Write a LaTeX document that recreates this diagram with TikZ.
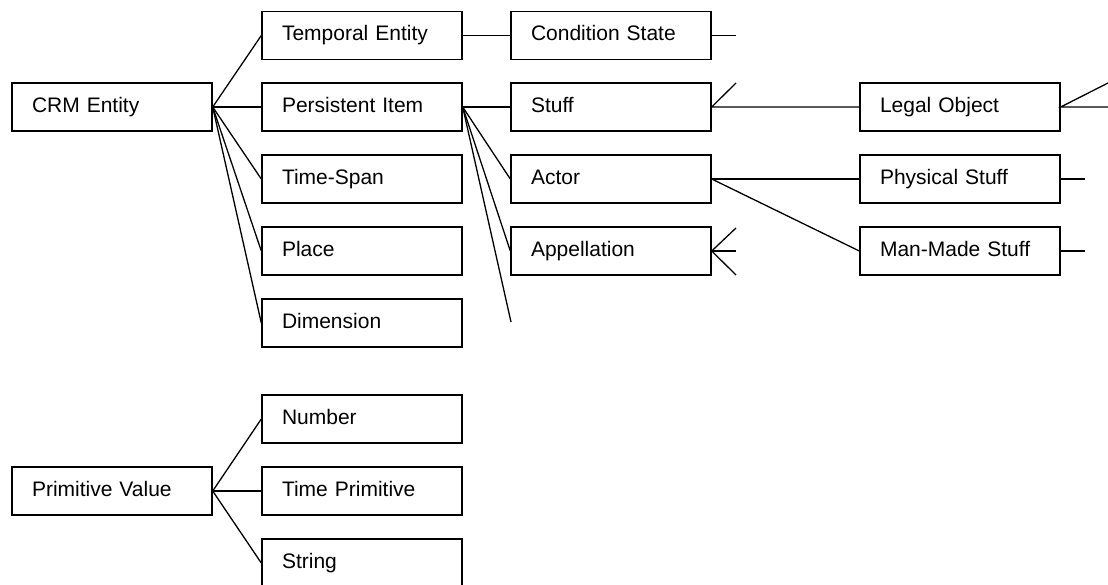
\documentclass[tikz,border=0pt]{standalone}
\usepackage{fontspec}
\setmainfont{Liberation Sans}
\usepackage{tikz}
\tikzset{
  classbox/.style={draw, rectangle, line width=1.4pt, minimum width=200pt,
    minimum height=48pt, text width=160pt, inner xsep=20pt, align=left,
    text height=15pt, text depth=4.5pt,
    font=\fontsize{21}{25}\selectfont},
  link/.style={line width=1.3pt}
}

\begin{document}
\begin{tikzpicture}[x=1pt, y=-1pt]
  \useasboundingbox (0,0) rectangle (1108,585);
  % Root classes
  \node[classbox] (crm) at (112,107) {CRM Entity};
  \node[classbox] (prim) at (112,491) {Primitive Value};
  % First level
  \node[classbox] (temporal) at (362,35.5) {Temporal Entity};
  \node[classbox] (persist) at (362,107) {Persistent Item};
  \node[classbox] (timespan) at (362,179) {Time-Span};
  \node[classbox] (place) at (362,251) {Place};
  \node[classbox] (dimension) at (362,323) {Dimension};
  \node[classbox] (number) at (362,419) {Number};
  \node[classbox] (timeprim) at (362,491) {Time Primitive};
  \node[classbox] (string) at (362,563) {String};
  % Second level
  \node[classbox] (condition) at (611,35.5) {Condition State};
  \node[classbox] (stuff) at (611,107) {Stuff};
  \node[classbox] (actor) at (611,179) {Actor};
  \node[classbox] (appellation) at (611,251) {Appellation};
  % Third level
  \node[classbox] (legal) at (960,107) {Legal Object};
  \node[classbox] (physical) at (960,179) {Physical Stuff};
  \node[classbox] (manmade) at (960,251) {Man-Made Stuff};
  % Loose ends
  \coordinate (condition-end) at (736,35.5);
  \coordinate (persist-end) at (511,322);
  \coordinate (stuff-up) at (736,83);
  \coordinate (app-up) at (736,228);
  \coordinate (app-mid) at (736,251);
  \coordinate (app-down) at (736,275);
  \coordinate (legal-up) at (1108,83);
  \coordinate (legal-mid) at (1108,107);
  \coordinate (physical-end) at (1085,179);
  \coordinate (manmade-end) at (1085,251);
  % Links from CRM Entity
  \foreach \child in {temporal, persist, timespan, place, dimension}
    \draw[link] (crm.east) -- (\child.west);
  % Links from Primitive Value
  \foreach \child in {number, timeprim, string}
    \draw[link] (prim.east) -- (\child.west);
  % Links from Persistent Item
  \foreach \child in {stuff, actor, appellation}
    \draw[link] (persist.east) -- (\child.west);
  \draw[link] (persist.east) -- (persist-end);
  % Remaining links
  \draw[link] (temporal.east) -- (condition.west);
  \draw[link] (condition.east) -- (condition-end);
  \draw[link] (stuff-up) -- (stuff.east) -- (legal.west);
  \draw[link] (actor.east) -- (physical.west);
  \draw[link] (actor.east) -- (manmade.west);
  \draw[link] (app-up) -- (appellation.east) -- (app-down);
  \draw[link] (appellation.east) -- (app-mid);
  \draw[link] (legal-up) -- (legal.east) -- (legal-mid);
  \draw[link] (physical.east) -- (physical-end);
  \draw[link] (manmade.east) -- (manmade-end);
\end{tikzpicture}
\end{document}
